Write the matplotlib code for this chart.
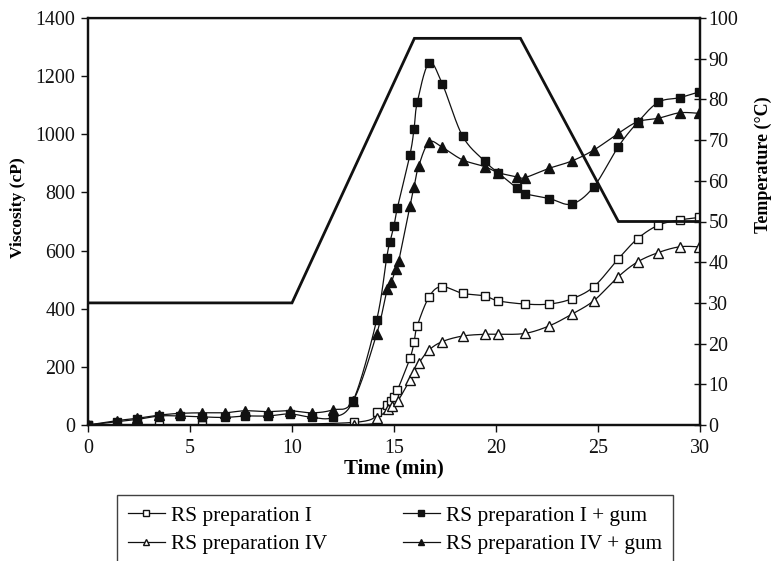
import numpy as np
import matplotlib
matplotlib.use("Agg")
import matplotlib.pyplot as plt
from matplotlib.lines import Line2D

plt.rcParams['font.family'] = ['Liberation Serif', 'DejaVu Serif']

# ---------------- data ----------------
t_gum = [0, 1.4, 2.4, 3.5, 4.5, 5.6, 6.7, 7.7, 8.8, 9.9, 11.0, 12.0, 13.0,
         14.15, 14.64, 14.8, 15.0, 15.17, 15.78, 15.98, 16.14, 16.72, 17.37,
         18.36, 19.44, 20.11, 21.01, 21.42, 22.61, 23.71, 24.8, 25.99, 26.94,
         27.95, 29.0, 29.97]
v_I_gum = [0, 11, 19, 31, 31, 28, 26, 31, 31, 38, 26, 26, 84,
           361, 576, 629, 686, 748, 929, 1017, 1110, 1246, 1173,
           994, 908, 867, 816, 796, 779, 760, 820, 957, 1041,
           1110, 1126, 1146]

t_IV_gum = [0, 1.4, 2.4, 3.5, 4.5, 5.6, 6.7, 7.7, 8.8, 9.9, 11.0, 12.0, 13.0,
            14.15, 14.67, 14.87, 15.08, 15.23, 15.78, 15.98, 16.21, 16.72, 17.37,
            18.36, 19.44, 20.11, 21.01, 21.42, 22.61, 23.71, 24.8, 25.99, 26.94,
            27.95, 29.0, 29.97]
v_IV_gum = [0, 15, 23, 34, 40, 42, 42, 49, 46, 49, 42, 52, 84,
            313, 467, 491, 536, 564, 753, 818, 891, 973, 955,
            912, 889, 868, 854, 851, 883, 908, 946, 1003, 1043,
            1055, 1074, 1072]

t_I = [0, 3.5, 5.6, 13.04, 14.15, 14.67, 14.83, 15.0, 15.17, 15.78, 15.98,
       16.14, 16.72, 17.33, 18.36, 19.44, 20.11, 21.42, 22.61, 23.71, 24.8,
       25.99, 26.94, 27.95, 29.0, 29.97]
v_I = [0, 0, 0, 9, 46, 69, 84, 95, 120, 229, 284,
       341, 441, 476, 453, 444, 427, 416, 416, 434, 476,
       571, 641, 687, 705, 714]

t_IV = [0, 1.4, 2.4, 13.04, 14.15, 14.72, 14.9, 15.2, 15.78, 15.98, 16.21,
        16.72, 17.37, 18.36, 19.44, 20.11, 21.42, 22.61, 23.71, 24.8, 25.99,
        26.94, 27.95, 29.0, 29.97]
v_IV = [0, -2, -2, 0, 25, 54, 65, 84, 155, 181, 212,
        258, 287, 306, 312, 312, 315, 341, 381, 428, 510,
        561, 593, 613, 613]

t_temp = [0, 10, 16, 21.2, 26, 30]
temp = [30, 30, 95, 95, 50, 50]

labels = ["RS preparation I", "RS preparation I + gum",
          "RS preparation IV", "RS preparation IV + gum"]
x_ticks = [0, 5, 10, 15, 20, 25, 30]
y_ticks = [0, 200, 400, 600, 800, 1000, 1200, 1400]
t2_ticks = [0, 10, 20, 30, 40, 50, 60, 70, 80, 90, 100]


def smooth(x, y, n=24):
    """Catmull-Rom (Excel-like smoothed line) through the data points."""
    sx, sy = 612 / 30.0, 407 / 1400.0
    P = np.column_stack([np.asarray(x, float) * sx, np.asarray(y, float) * sy])
    P = np.vstack([P[0], P, P[-1]])
    out = []
    s = np.linspace(0, 1, n, endpoint=False)[:, None]
    for i in range(1, len(P) - 2):
        p0, p1, p2, p3 = P[i - 1], P[i], P[i + 1], P[i + 2]
        seg = 0.5 * ((2 * p1) + (-p0 + p2) * s
                     + (2 * p0 - 5 * p1 + 4 * p2 - p3) * s ** 2
                     + (-p0 + 3 * p1 - 3 * p2 + p3) * s ** 3)
        out.append(seg)
    out.append(P[-2][None])
    pts = np.vstack(out)
    return pts[:, 0] / sx, pts[:, 1] / sy


fig = plt.figure(figsize=(7.73, 5.61), dpi=100)
ax = fig.add_axes([88 / 773, 1 - 425 / 561, 612 / 773, 407 / 561])
ax2 = ax.twinx()

K = '#111111'
styles = {
    0: (t_I, v_I, 's', 'white', 6.3),
    1: (t_gum, v_I_gum, 's', K, 6.3),
    2: (t_IV, v_IV, '^', 'white', 7.2),
    3: (t_IV_gum, v_IV_gum, '^', K, 7.2),
}
for k in [0, 2, 3, 1]:
    tx, vy, mk, fc, ms = styles[k]
    xs, ys = smooth(tx, vy)
    ax.plot(xs, ys, color=K, lw=0.9, zorder=2)
    ax.plot(tx, vy, ls='none', marker=mk, mfc=fc, mec=K, mew=1.0, ms=ms,
            zorder=3)

ax2.plot(t_temp, temp, color=K, lw=2.0, solid_joinstyle='miter')

ax.set_xlim(0, 30)
ax.set_ylim(0, 1400)
ax2.set_ylim(0, 100)
ax.set_xticks(x_ticks)
ax.set_yticks(y_ticks)
ax2.set_yticks(t2_ticks)

fs = 14.4
ax.tick_params(axis='both', direction='out', length=5, width=1.0,
               labelsize=fs, pad=4, colors=K)
ax.tick_params(axis='x', pad=5)
ax2.tick_params(axis='y', direction='inout', length=8, width=1.0,
                labelsize=fs, pad=2, colors=K)

for a in (ax, ax2):
    for sp in a.spines.values():
        sp.set_linewidth(1.6)
        sp.set_color(K)
ax.spines['top'].set_linewidth(1.0)

ax.set_xlabel('Time (min)', fontsize=15, fontweight='bold')
ax.xaxis.set_label_coords(0.5, -0.108)
ax.xaxis.label.set_va('center')
ax.set_ylabel('Viscosity (cP)', fontsize=12.6, fontweight='bold')
ax.yaxis.set_label_coords(-0.114, 0.533)
ax.yaxis.label.set_va('center')
ax2.set_ylabel('Temperature (°C)', fontsize=13, fontweight='bold',
               rotation=90)
ax2.yaxis.set_label_coords(1.104, 0.639)
ax2.yaxis.label.set_va('center')

handles = [
    Line2D([], [], color=K, lw=0.9, marker='s', mfc='white', mec=K, ms=4.5),
    Line2D([], [], color=K, lw=0.9, marker='^', mfc='white', mec=K, ms=5),
    Line2D([], [], color=K, lw=0.9, marker='s', mfc=K, mec=K, ms=4.5),
    Line2D([], [], color=K, lw=0.9, marker='^', mfc=K, mec=K, ms=5),
]
leg_labels = [labels[0], labels[2], labels[1], labels[3]]
top = 1 - 495 / 561
leg = fig.legend(handles, leg_labels, ncol=2, loc='upper left',
                 bbox_to_anchor=(117 / 773, -0.2, 556 / 773, top + 0.2),
                 mode='expand', fontsize=15.3, frameon=True, fancybox=False,
                 edgecolor=K, handlelength=1.75, handletextpad=0.3,
                 labelspacing=0.42, borderpad=0.5, borderaxespad=0)
leg.get_frame().set_linewidth(1.0)

fig.savefig('out.png', dpi=100)
